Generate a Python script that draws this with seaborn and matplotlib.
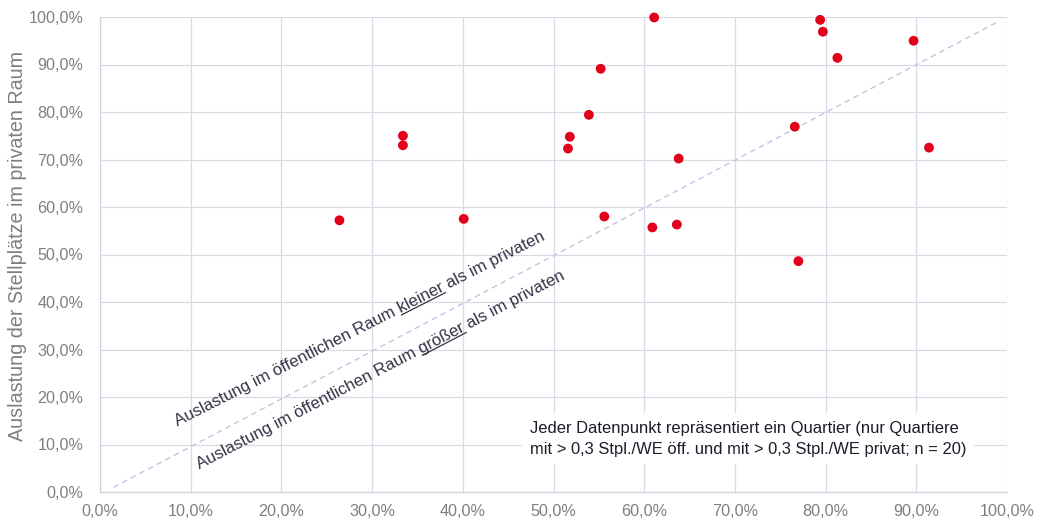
import matplotlib
matplotlib.use("Agg")
import numpy as np
import matplotlib.pyplot as plt
import seaborn as sns
import pandas as pd
from matplotlib.ticker import FuncFormatter, MultipleLocator
from matplotlib.lines import Line2D
from matplotlib.transforms import IdentityTransform

# Data (percent)
oeff = [61.1, 55.2, 53.9, 51.8, 51.6, 33.4, 33.4, 63.8, 26.4, 40.1,
        55.6, 60.9, 63.6, 79.4, 79.7, 81.3, 89.7, 76.6, 91.4, 77.0]
privat = [99.9, 89.1, 79.4, 74.8, 72.3, 75.0, 73.0, 70.2, 57.2, 57.5,
          58.0, 55.7, 56.3, 99.4, 96.9, 91.4, 95.0, 76.9, 72.5, 48.6]
diag_x = [1.5, 99.0]
diag_y = [1.0, 99.0]

ylabel = "Auslastung der Stellplätze im privaten Raum"
note_prefix = "Auslastung im öffentlichen Raum "
word_upper = "kleiner"
word_lower = "größer"
note_suffix = " als im privaten"
box_text = ("Jeder Datenpunkt repräsentiert ein Quartier (nur Quartiere\n"
            "mit > 0,3 Stpl./WE öff. und mit > 0,3 Stpl./WE privat; n = 20)")

sns.set_theme(style="whitegrid")
plt.rcParams["font.family"] = ["Liberation Sans", "DejaVu Sans"]

fig = plt.figure(figsize=(10.37, 5.21), dpi=100)
ax = fig.add_axes([100/1037, 29/521, 907/1037, 475/521])

df = pd.DataFrame({"oeff": oeff, "privat": privat})
ddf = pd.DataFrame({"x": diag_x, "y": diag_y})

sns.lineplot(data=ddf, x="x", y="y", ax=ax, color="#C3C3E3", lw=1.0,
             linestyle=(0, (4, 3)), zorder=2)
sns.scatterplot(data=df, x="oeff", y="privat", ax=ax, color="#E2001A",
                s=50, edgecolor="none", zorder=5, clip_on=False)

ax.set_xlim(0, 100)
ax.set_ylim(0, 100)
ax.xaxis.set_major_locator(MultipleLocator(10))
ax.yaxis.set_major_locator(MultipleLocator(10))
fmt = FuncFormatter(lambda v, p: f"{v:.1f}%".replace(".", ","))
ax.xaxis.set_major_formatter(fmt)
ax.yaxis.set_major_formatter(fmt)
ax.grid(True, color="#DADAE6", lw=0.9)
ax.tick_params(axis="both", length=0, labelsize=11.6, colors="#7F7F7F")
ax.tick_params(axis="y", pad=12)
ax.tick_params(axis="x", pad=9)
for s in ax.spines.values():
    s.set_color("#D0D0DE")
    s.set_linewidth(0.9)
ax.spines["top"].set_visible(False)
ax.spines["right"].set_visible(False)

ax.set_xlabel("")
ax.set_ylabel(ylabel, fontsize=14.2, color="#7F7F7F", va="center")
ax.yaxis.set_label_coords(-0.0915, 0.518)

note_color = "#3A3048"
notes = [
    (8.52, 13.8, 26.9, word_upper),
    (10.95, 4.8, 27.5, word_lower),
]
text_objs = []
for x0, y0, rot, word in notes:
    t = ax.text(x0, y0, note_prefix + word + note_suffix, rotation=rot,
                rotation_mode="anchor", ha="left", va="baseline",
                fontsize=12.1, color=note_color, zorder=4)
    text_objs.append((t, x0, y0, rot, word))

ax.text(47.4, 15.0, box_text, ha="left", va="top", fontsize=11.9,
        color="#1E1A2A", linespacing=1.5, zorder=4,
        bbox=dict(boxstyle="square,pad=0.45", facecolor="white", edgecolor="none"))

# underline the key words
fig.canvas.draw()
renderer = fig.canvas.get_renderer()
for t, x0, y0, rot, word in text_objs:
    prop = t.get_fontproperties()
    w_full, _, _ = renderer.get_text_width_height_descent(
        (note_prefix + word).strip(), prop, ismath=False)
    w_word, _, _ = renderer.get_text_width_height_descent(word, prop, ismath=False)
    ox, oy = ax.transData.transform((x0, y0))
    th = np.deg2rad(rot)
    d = np.array([np.cos(th), np.sin(th)])
    n = np.array([np.sin(th), -np.cos(th)])
    off = 2.0
    p1 = np.array([ox, oy]) + d * (w_full - w_word) + n * off
    p2 = np.array([ox, oy]) + d * w_full + n * off
    ln = Line2D([p1[0], p2[0]], [p1[1], p2[1]], transform=IdentityTransform(),
                color=note_color, lw=0.9, zorder=4)
    fig.add_artist(ln)

fig.savefig("out.png", dpi=100)
